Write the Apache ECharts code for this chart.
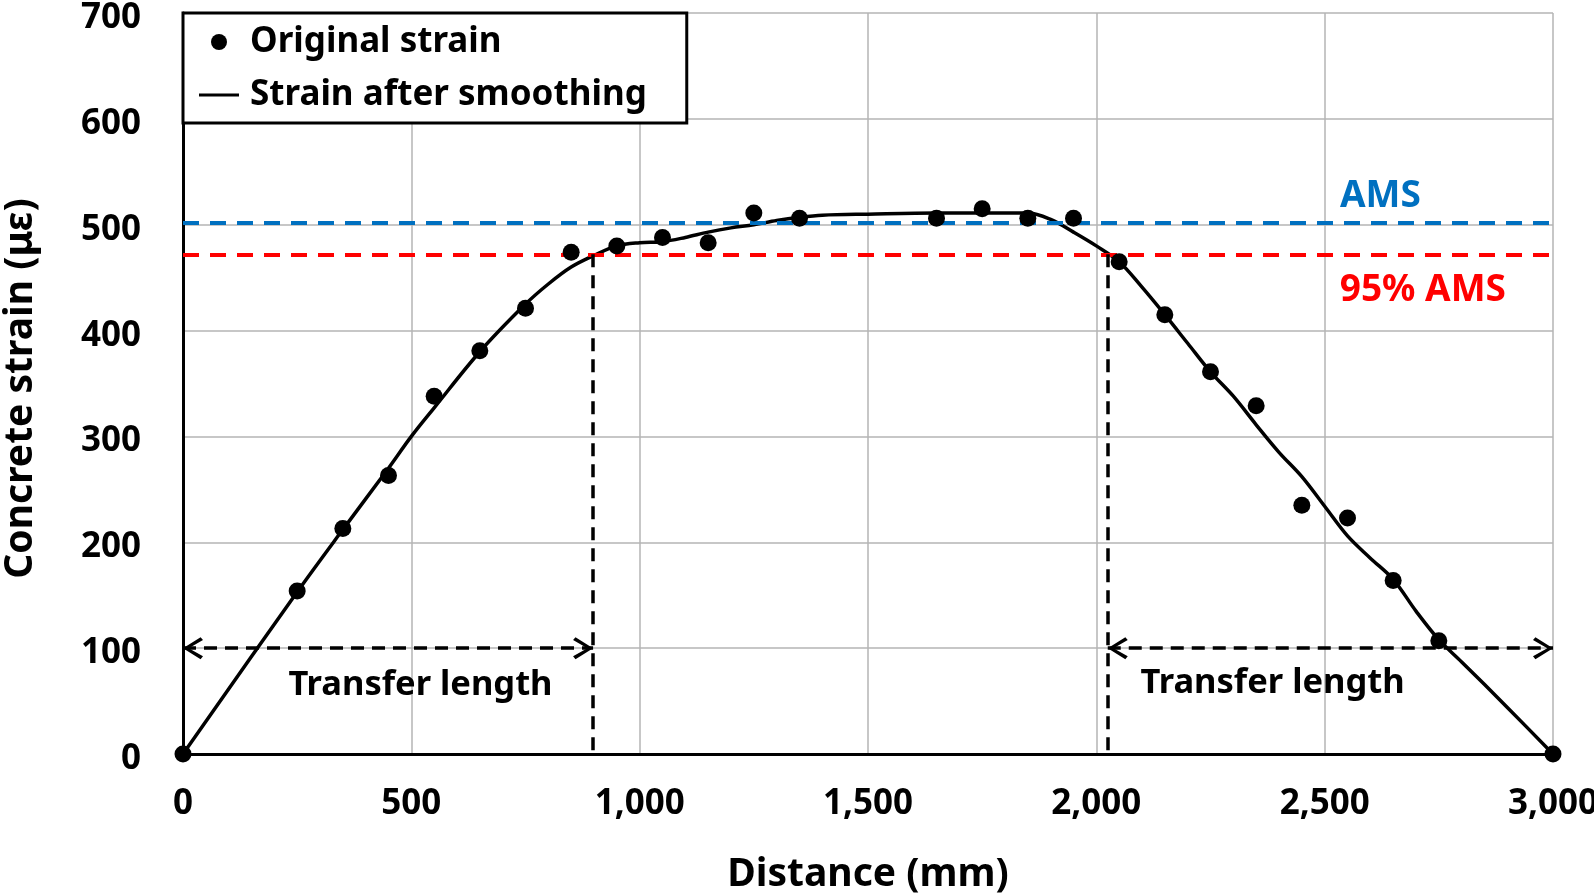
<!DOCTYPE html>
<html><head><meta charset="utf-8">
<script src="https://cdn.jsdelivr.net/npm/echarts@6/dist/echarts.min.js"></script>
<style>html,body{margin:0;padding:0;background:#fff}#c{width:1594px;height:895px}</style>
</head><body><div id="c"></div>
<script>
// ---- data ----
const xTickValues = [0, 500, 1000, 1500, 2000, 2500, 3000];
const yTickValues = [0, 100, 200, 300, 400, 500, 600, 700];
const originalX = [0, 250, 350, 450, 550, 650, 750, 850, 950, 1050, 1150, 1250, 1350, 1650, 1750, 1850, 1950, 2050, 2150, 2250, 2350, 2450, 2550, 2650, 2750, 3000];
const originalY = [0, 154, 213, 263, 338, 381, 421, 474, 480, 488, 483, 511, 506, 506, 515, 506, 506, 465, 415, 361, 329, 235, 223, 164, 107, 0];
const smoothX = [0, 250, 350, 450, 500, 550, 650, 750, 800, 850, 900, 950, 1000, 1050, 1100, 1150, 1200, 1250, 1300, 1350, 1400, 1500, 1650, 1750, 1850, 1900, 1950, 2000, 2050, 2100, 2150, 2200, 2250, 2300, 2350, 2400, 2450, 2500, 2550, 2600, 2650, 2700, 2750, 2800, 2900, 3000];
const smoothY = [0, 153, 212, 270, 300, 327, 380, 425, 444, 460, 471, 480, 483, 484, 488, 493, 497, 500, 504, 507, 509, 510, 511, 511, 511, 505, 493, 480, 465, 441, 415, 388, 361, 338, 311, 285, 262, 234, 206, 185, 165, 135, 108, 87, 44, 0];
const AMS = 502;
const AMS95 = 472;
const transferLeftEnd = 898;
const transferRightStart = 2025;
const arrowLevel = 100;
const seriesNames = ['Original strain', 'Strain after smoothing'];

const FONT = '"Noto Sans", "Open Sans", sans-serif';
const chevron = 'path://M10,0 L20,16 L17.4,18.2 L10,5.2 L2.6,18.2 L0,16 Z';
const legendLineIcon = 'path://M0,0 L0.5,0 L0.5,0.001 Z M0,6.5 L40,6.5 L40,9.5 L0,9.5 Z M0,16 L0.5,16 L0.5,15.999 Z';
const blackDash = { color: '#000', width: 3.5, type: [13, 8] };

const chart = echarts.init(document.getElementById('c'));
const option = {
  backgroundColor: '#fff',
  animation: false,
  textStyle: { fontFamily: FONT },
  grid: { left: 183, top: 13, right: 41, bottom: 141, containLabel: false, outerBoundsMode: 'none' },
  legend: {
    left: 183, top: 13, orient: 'vertical',
    borderColor: '#000', borderWidth: 3, borderRadius: 0,
    padding: [9, 40, 8, 16], itemGap: 13, itemWidth: 40, itemHeight: 16,
    textStyle: { fontSize: 35, fontWeight: 'bold', color: '#000', fontFamily: FONT, lineHeight: 40, padding: [0, 0, 0, 6] },
    backgroundColor: '#fff',
    data: [
      { name: seriesNames[0], icon: 'circle' },
      { name: seriesNames[1], icon: legendLineIcon }
    ]
  },
  xAxis: [{
    type: 'value', min: xTickValues[0], max: xTickValues[xTickValues.length - 1], interval: 500,
    name: 'Distance (mm)', nameLocation: 'middle', nameGap: 101,
    nameTextStyle: { fontSize: 39, fontWeight: 'bold', color: '#000', fontFamily: FONT },
    axisLine: { show: true, lineStyle: { color: '#222', width: 2 } },
    axisTick: { show: false },
    axisLabel: { margin: 33, fontSize: 35, fontWeight: 'bold', color: '#000', fontFamily: FONT,
      formatter: v => v.toLocaleString('en-US') },
    splitLine: { show: true, lineStyle: { color: '#b4b4b4', width: 1.5 } }
  }, {
    type: 'value', position: 'top', min: 0, max: 3000,
    axisLine: { show: true, lineStyle: { color: '#000', width: 3 } },
    axisTick: { show: false }, axisLabel: { show: false }, splitLine: { show: false }
  }],
  yAxis: [{
    type: 'value', min: yTickValues[0], max: yTickValues[yTickValues.length - 1], interval: 100,
    name: 'Concrete strain (με)', nameLocation: 'middle', nameGap: 143, nameRotate: 90,
    nameTextStyle: { fontSize: 39, fontWeight: 'bold', color: '#000', fontFamily: FONT, padding: [0, 10, 0, 0] },
    axisLine: { show: true, lineStyle: { color: '#222', width: 2 } },
    axisTick: { show: false },
    axisLabel: { margin: 42, color: '#000',
      formatter: v => '{t|' + v + '}',
      rich: { t: { fontSize: 35, fontWeight: 'bold', color: '#000', fontFamily: FONT, padding: [10, 0, 0, 0] } } },
    splitLine: { show: true, lineStyle: { color: '#b4b4b4', width: 1.5 } }
  }, {
    type: 'value', position: 'right', min: 0, max: 700,
    axisLine: { show: true, lineStyle: { color: '#000', width: 3 } },
    axisTick: { show: false }, axisLabel: { show: false }, splitLine: { show: false }
  }],
  series: [{
    name: seriesNames[1], type: 'line', z: 3,
    data: smoothX.map((x, i) => [x, smoothY[i]]),
    smooth: 0.35, symbol: 'none',
    lineStyle: { color: '#000', width: 3.5 },
    itemStyle: { color: '#000' },
    emphasis: { disabled: true },
    markLine: {
      silent: true, symbol: ['none', 'none'], label: { show: false }, emphasis: { disabled: true },
      data: [
        [{ coord: [0, AMS], lineStyle: { color: '#0070C0', width: 4, type: [16, 11] } }, { coord: [3000, AMS] }],
        [{ coord: [0, AMS95], lineStyle: { color: '#FF0000', width: 4, type: [16, 11] } }, { coord: [3000, AMS95] }],
        [{ coord: [transferLeftEnd, AMS95], lineStyle: blackDash }, { coord: [transferLeftEnd, 0] }],
        [{ coord: [transferRightStart, AMS95], lineStyle: blackDash }, { coord: [transferRightStart, 0] }],
        [{ coord: [0, arrowLevel], symbol: chevron, symbolSize: [22, 20], symbolOffset: [0, 10], lineStyle: blackDash },
         { coord: [transferLeftEnd, arrowLevel], symbol: chevron, symbolSize: [22, 20], symbolOffset: [0, 10] }],
        [{ coord: [transferRightStart, arrowLevel], symbol: chevron, symbolSize: [22, 20], symbolOffset: [0, 10], lineStyle: blackDash },
         { coord: [3000, arrowLevel], symbol: chevron, symbolSize: [22, 20], symbolOffset: [0, 10] }]
      ]
    },
    markPoint: {
      silent: true, symbol: 'circle', symbolSize: 0,
      label: { show: true, position: 'inside', fontFamily: FONT, fontWeight: 'bold', formatter: p => p.name },
      data: [
        { name: 'Transfer length', coord: [520, 65], label: { color: '#000', fontSize: 34.5 } },
        { name: 'Transfer length', coord: [2386, 67], label: { color: '#000', fontSize: 34.5 } },
        { name: 'AMS', coord: [2622, 527], label: { color: '#0070C0', fontSize: 37 } },
        { name: '95% AMS', coord: [2715, 438], label: { color: '#FF0000', fontSize: 37 } }
      ]
    }
  }, {
    name: seriesNames[0], type: 'scatter', z: 5,
    data: originalX.map((x, i) => [x, originalY[i]]),
    symbol: 'circle', symbolSize: 17,
    itemStyle: { color: '#000', opacity: 1 },
    emphasis: { disabled: true }
  }]
};
chart.setOption(option);
</script>
</body></html>
